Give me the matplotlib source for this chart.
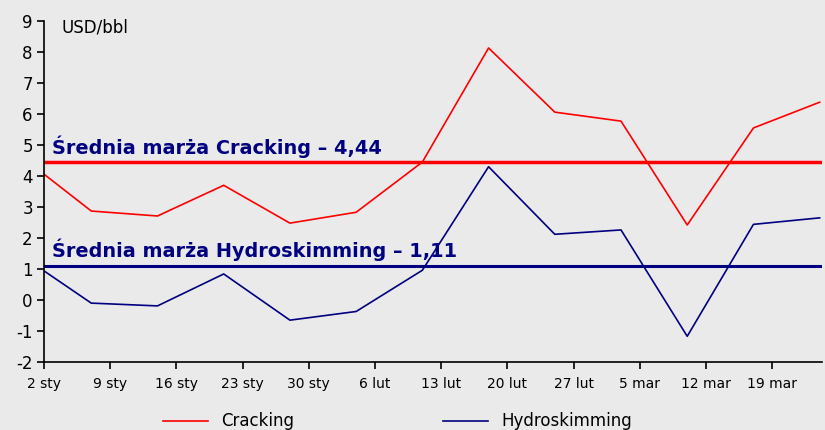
import matplotlib
matplotlib.use('Agg')
import matplotlib.pyplot as plt
import pandas as pd

plt.rcParams['axes.unicode_minus'] = False

# weekly points (2008)
dates = ['2008-01-02', '2008-01-07', '2008-01-14', '2008-01-21', '2008-01-28',
         '2008-02-04', '2008-02-11', '2008-02-18', '2008-02-25', '2008-03-03',
         '2008-03-10', '2008-03-17', '2008-03-24']
cracking = [4.06, 2.87, 2.71, 3.70, 2.48, 2.83, 4.45, 8.13, 6.06, 5.77, 2.42, 5.55, 6.38]
hydro = [0.94, -0.10, -0.19, 0.84, -0.65, -0.37, 0.96, 4.30, 2.12, 2.26, -1.17, 2.44, 2.65]

avg_cracking = 4.44
avg_hydro = 1.11

tick_dates = ['2008-01-02', '2008-01-09', '2008-01-16', '2008-01-23', '2008-01-30',
              '2008-02-06', '2008-02-13', '2008-02-20', '2008-02-27', '2008-03-05',
              '2008-03-12', '2008-03-19']
tick_labels = ['2 sty', '9 sty', '16 sty', '23 sty', '30 sty', '6 lut', '13 lut',
               '20 lut', '27 lut', '5 mar', '12 mar', '19 mar']

bg = '#eaeaea'
red = '#ff0000'
navy = '#000080'

x = pd.to_datetime(dates)
xt = pd.to_datetime(tick_dates)

fig = plt.figure(figsize=(8.25, 4.3), dpi=100, facecolor=bg)
ax = fig.add_axes([0.0533, 0.1581, 0.9431, 0.7931])
ax.set_facecolor(bg)

ax.plot(x, cracking, color=red, lw=1.2, label='Cracking')
ax.plot(x, hydro, color=navy, lw=1.2, label='Hydroskimming')
ax.axhline(avg_cracking, color=red, lw=2.5)
ax.axhline(avg_hydro, color=navy, lw=2.2)

ax.set_xlim(x[0], x[-1] + pd.Timedelta(hours=6))
ax.set_ylim(-2, 9)
ax.set_yticks(range(-2, 10))
ax.set_xticks(xt)
ax.set_xticklabels(tick_labels, fontsize=10)
ax.tick_params(axis='y', labelsize=12, length=5, width=1.2, pad=3)
ax.tick_params(axis='x', length=5, width=1.2, pad=6)

for s in ['top', 'right']:
    ax.spines[s].set_visible(False)
for s in ['left', 'bottom']:
    ax.spines[s].set_linewidth(1.2)

ax.text(0.022, 0.98, 'USD/bbl', transform=ax.transAxes, fontsize=12, va='center')
ax.text(x[0] + pd.Timedelta(hours=20), avg_cracking + 0.15,
        'Średnia marża Cracking – 4,44', color=navy, fontsize=13.9,
        fontweight='bold', va='bottom')
ax.text(x[0] + pd.Timedelta(hours=20), avg_hydro + 0.15,
        'Średnia marża Hydroskimming – 1,11', color=navy, fontsize=13.9,
        fontweight='bold', va='bottom')

fig.legend(loc='center', bbox_to_anchor=(0.482, 0.02), ncol=2, frameon=False,
           fontsize=12, handlelength=2.7, columnspacing=8.9)

fig.savefig('out.png', dpi=100, facecolor=bg)
